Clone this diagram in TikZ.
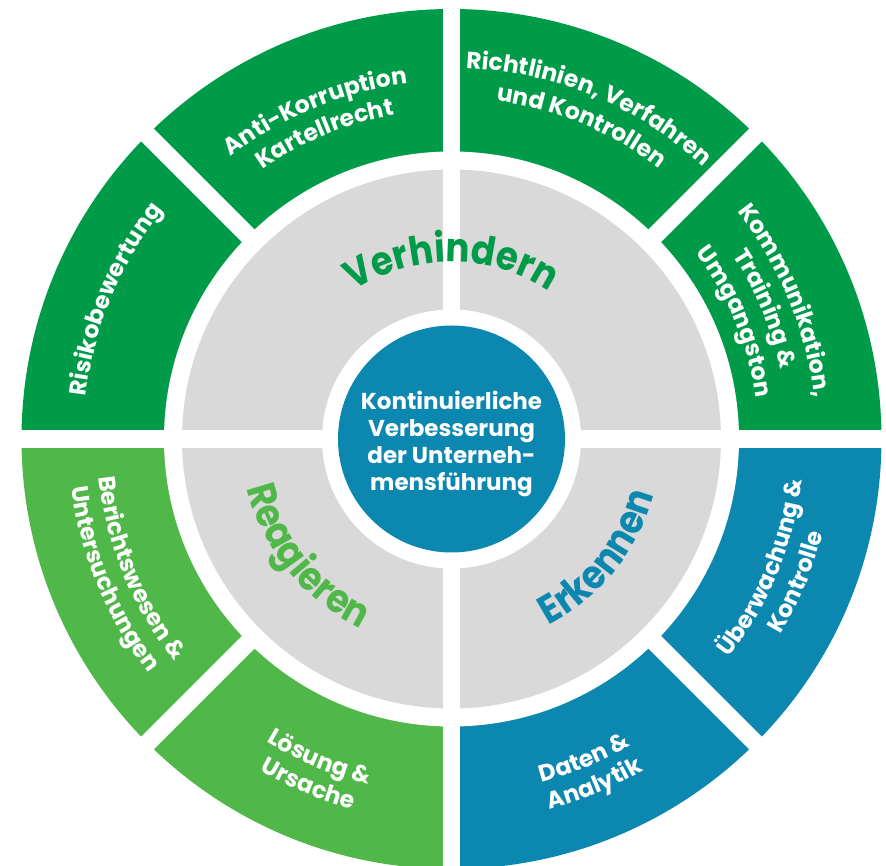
\documentclass[tikz,border=0pt]{standalone}
\usepackage{fontspec}
\setmainfont{Poppins}
\newfontfamily\labfont{Poppins Bold}
\newfontfamily\graylab{Poppins Bold}[FakeStretch=0.89]
\usetikzlibrary{decorations.text}
\definecolor{dgreen}{RGB}{0,155,72}
\definecolor{lgreen}{RGB}{80,184,72}
\definecolor{cblue}{RGB}{12,135,175}
\definecolor{cgray}{RGB}{217,217,217}
% clockwise arc label (upper half, letter tops outward): radius, centre angle, font, colour, text
\newcommand\cwlabel[5]{%
  \path[decorate,decoration={text along path,text align=center,text color=#4,
    text={|#3|#5}}]
    (#2+70:#1) arc[start angle=#2+70,end angle=#2-70,radius=#1];}
% counter-clockwise arc label (lower half, letter tops inward)
\newcommand\ccwlabel[5]{%
  \path[decorate,decoration={text along path,text align=center,text color=#4,
    text={|#3|#5}}]
    (#2-70:#1) arc[start angle=#2-70,end angle=#2+70,radius=#1];}
\newcommand\outerfont{\labfont\fontsize{23.5}{23.5}\selectfont}
\newcommand\phasefont{\graylab\fontsize{40}{40}\selectfont}
\begin{document}
\begin{tikzpicture}[x=1pt,y=1pt,
  gapline/.style={white,line width=17.5}]
\useasboundingbox (-451.5,-427) rectangle (434.5,439);
\clip (-451.5,-427) rectangle (434.5,439);
% outer ring sectors
\fill[dgreen] (0,0) -- (0:430) arc[start angle=0,end angle=180,radius=430] -- cycle;
\fill[lgreen] (0,0) -- (180:430) arc[start angle=180,end angle=270,radius=430] -- cycle;
\fill[cblue] (0,0) -- (270:430) arc[start angle=270,end angle=360,radius=430] -- cycle;
\fill[white] (0,0) circle[radius=287.5];
% grey ring
\fill[cgray] (0,0) circle[radius=269.5];
% white gaps
\draw[gapline] (-460,0) -- (460,0) (0,-460) -- (0,460);
\foreach \a in {45,135,225,315} \draw[gapline,line width=18] (\a:276) -- (\a:460);
% centre
\fill[white] (0,0) circle[radius=129.5];
\fill[cblue] (0,0) circle[radius=113.5];
\node[font=\labfont\fontsize{23}{26.7}\selectfont,text=white,align=center] (centre) at (0,-5)
  {Kontinuierliche\\Verbesserung\\der Unterneh-\\mensführung};
% grey ring labels
\cwlabel{177}{90}{\phasefont}{dgreen}{Verhindern}
\ccwlabel{210}{219}{\phasefont}{lgreen}{Reagieren}
\ccwlabel{210}{321}{\phasefont}{cblue}{Erkennen}
% outer ring labels, upper half
\cwlabel{358}{112.5}{\outerfont}{white}{Anti-Korruption}
\cwlabel{329}{112.5}{\outerfont}{white}{Kartellrecht}
\cwlabel{371}{67.5}{\outerfont}{white}{Richtlinien, Verfahren}
\cwlabel{341}{67.5}{\outerfont}{white}{und Kontrollen}
\cwlabel{365}{22.5}{\outerfont}{white}{Kommunikation,}
\cwlabel{336}{22.5}{\outerfont}{white}{Training {\&}}
\cwlabel{307}{22.5}{\outerfont}{white}{Umgangston}
\cwlabel{368}{157.5}{\outerfont}{white}{Risikobewertung}
% outer ring labels, lower half
\ccwlabel{355}{202.5}{\outerfont}{white}{Berichtswesen {\&}}
\ccwlabel{383}{202.5}{\outerfont}{white}{Untersuchungen}
\ccwlabel{355}{247.5}{\outerfont}{white}{Lösung {\&}}
\ccwlabel{383}{247.5}{\outerfont}{white}{Ursache}
\ccwlabel{355}{292.5}{\outerfont}{white}{Daten {\&}}
\ccwlabel{383}{292.5}{\outerfont}{white}{Analytik}
\ccwlabel{353}{337.5}{\outerfont}{white}{Überwachung {\&}}
\ccwlabel{383}{337.5}{\outerfont}{white}{Kontrolle}
\end{tikzpicture}
\end{document}
